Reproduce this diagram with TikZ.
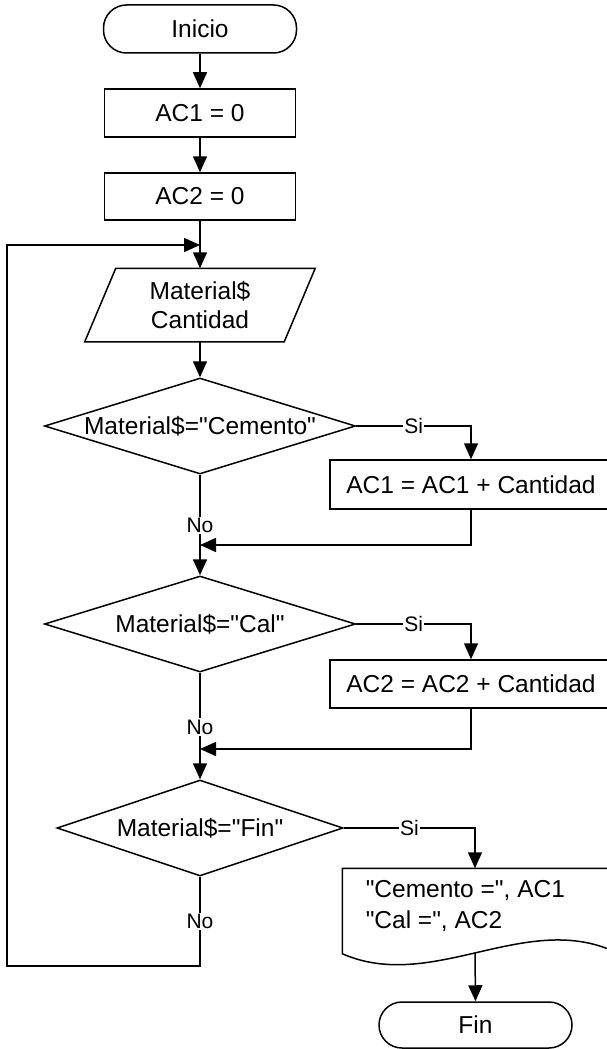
\documentclass[tikz,border=0pt]{standalone}
\usepackage{fontspec}
\setmainfont{Liberation Sans}[Ligatures=TeXOff]
\usetikzlibrary{shapes.geometric,arrows.meta}
\begin{document}
\begin{tikzpicture}[x=1pt,y=-1pt,
  line width=1.5pt,
  every node/.style={font=\fontsize{24.5}{29}\selectfont},
  flow/.style={-{Triangle[length=16pt,width=14pt]}},
  term/.style={draw, rectangle, rounded corners=23pt, minimum width=193pt,
    minimum height=48pt, inner sep=0pt},
  proc/.style={draw, rectangle, minimum height=48pt, inner sep=0pt},
  dec/.style={draw, diamond, shape aspect=3.2, inner sep=0pt, minimum height=96pt},
  lbl/.style={fill=white, inner sep=1.5pt, font=\fontsize{21}{22}\selectfont},
]
\useasboundingbox (0,0) rectangle (606,1049);

% main column
\node[term] (inicio) at (200,29) {Inicio};
\node[proc, minimum width=191pt] (ac1) at (200,113) {AC1 = 0};
\node[proc, minimum width=191pt, minimum height=47pt] (ac2) at (200,196.5) {AC2 = 0};

% input (parallelogram drawn around a plain node)
\node[minimum width=198pt, minimum height=72pt, inner sep=0pt, align=center]
  (leer) at (200,305) {Material\$\\Cantidad};
\draw ([xshift=15.5pt]leer.north west) -- ([xshift=15.5pt]leer.north east)
  -- ([xshift=-15.5pt]leer.south east) -- ([xshift=-15.5pt]leer.south west) -- cycle;

% decisions
\node[dec, minimum width=311pt] (d1) at (200,426) {\makebox[0pt]{Material\$="Cemento"}};
\node[dec, minimum width=311pt] (d2) at (200,624) {\makebox[0pt]{Material\$="Cal"}};
\node[dec, minimum width=286pt] (d3) at (200,828) {\makebox[0pt]{Material\$="Fin"}};

% accumulators
\node[proc, minimum width=282pt, minimum height=49pt] (b1) at (471,484.5) {AC1 = AC1 + Cantidad};
\node[proc, minimum width=282pt] (b2) at (471,684) {AC2 = AC2 + Cantidad};

% output document
\node[minimum width=264pt, minimum height=84pt, inner sep=0pt] (doc) at (475,911) {};
\draw (doc.south west) -- (doc.north west) -- (doc.north east)
  -- ([yshift=5pt]doc.south east)
  .. controls (520,915) and (430,992) .. (doc.south west);
\node[anchor=west, align=left, inner sep=0pt, font=\fontsize{24.5}{31}\selectfont]
  (doctext) at (365,906.5) {"Cemento =", AC1\\"Cal =", AC2};

\node[term, minimum height=46pt] (fin) at (475.5,1025) {Fin};

% junction points
\coordinate (m1) at (200,545);
\coordinate (m2) at (200,749);
\coordinate (j) at (200,245);
\coordinate (s1) at (471,426);
\coordinate (s2) at (471,624);
\coordinate (s3) at (475,828);
\coordinate (lb) at (200,966);
\coordinate (ll) at (7,966);
\coordinate (lt) at (7,245);

% connectors
\draw[flow] (inicio) -- (ac1);
\draw[flow] (ac1) -- (ac2);
\draw[flow] (ac2) -- (leer);
\draw[flow] (leer) -- (d1);

\draw[flow] (d1.east) -- node[lbl]{Si} (s1) -- (b1.north);
\draw (d1.south) -- node[lbl, pos=0.72]{No} (m1);
\draw[flow] (b1.south) |- (m1);
\draw[flow] (m1) -- (d2.north);

\draw[flow] (d2.east) -- node[lbl]{Si} (s2) -- (b2.north);
\draw (d2.south) -- node[lbl, pos=0.71]{No} (m2);
\draw[flow] (b2.south) |- (m2);
\draw[flow] (m2) -- (d3.north);

\draw[flow] (d3.east) -- node[lbl]{Si} (s3) -- (doc.north);
\draw[flow] ([yshift=1pt]doc.south) -- (fin.north);

\draw[flow] (d3.south) -- node[lbl, pos=0.5]{No} (lb) -- (ll) -- (lt) -- (j);
\end{tikzpicture}
\end{document}
